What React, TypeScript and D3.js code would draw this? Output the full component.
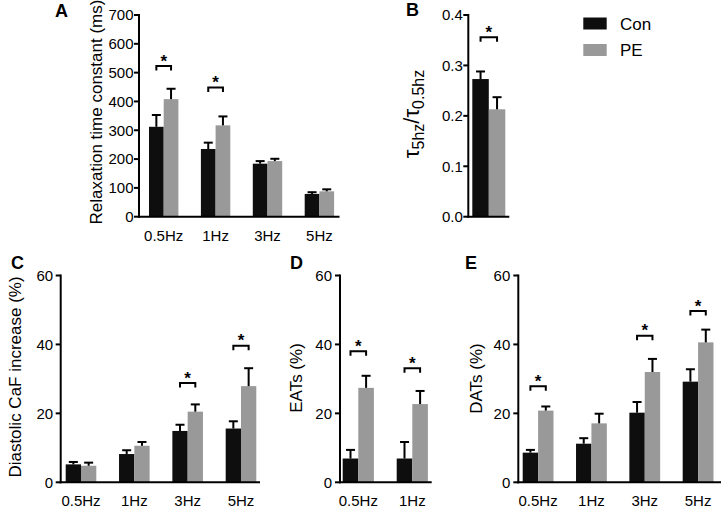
import React from 'react';
import * as d3 from 'd3';

// ---------- data ----------
const series = ['Con', 'PE'];
const freqs4 = ['0.5Hz', '1Hz', '3Hz', '5Hz'];
const freqs2 = ['0.5Hz', '1Hz'];
const ratioCat = ['ratio'];

// A: relaxation time constant (ms)
const relaxCon = [312, 235, 184, 79];
const relaxConSem = [41, 22, 9, 6];
const relaxPE = [408, 317, 193, 88];
const relaxPESem = [36, 31, 8, 7];
const relaxSig: [string, number][] = [['0.5Hz', 523], ['1Hz', 448]];
const relaxTicks = [0, 100, 200, 300, 400, 500, 600, 700];

// B: tau ratio
const ratioCon = [0.273];
const ratioConSem = [0.015];
const ratioPE = [0.213];
const ratioPESem = [0.024];
const ratioSig: [string, number][] = [['ratio', 0.356]];
const ratioTicks = [0, 0.1, 0.2, 0.3, 0.4];

// C: diastolic CaF increase (%)
const diaCon = [5.2, 8.2, 14.9, 15.6];
const diaConSem = [0.7, 1.1, 1.8, 2.1];
const diaPE = [4.8, 10.6, 20.5, 27.9];
const diaPESem = [0.9, 1.1, 2.1, 5.2];
const diaSig: [string, number][] = [['3Hz', 28.8], ['5Hz', 39.6]];

// D: EATs (%)
const eatCon = [6.9, 6.9];
const eatConSem = [2.5, 4.8];
const eatPE = [27.4, 22.7];
const eatPESem = [3.5, 3.8];
const eatSig: [string, number][] = [['0.5Hz', 38.0], ['1Hz', 33.1]];

// E: DATs (%)
const datCon = [8.6, 11.2, 20.2, 29.2];
const datConSem = [0.8, 1.6, 3.1, 3.6];
const datPE = [20.8, 17.1, 32.0, 40.6];
const datPESem = [1.2, 2.8, 3.8, 3.7];
const datSig: [string, number][] = [['0.5Hz', 27.9], ['3Hz', 42.5], ['5Hz', 49.7]];

const pctTicks = [0, 20, 40, 60];

const FONT = '"Liberation Sans", Arial, Helvetica, sans-serif';
const colors: Record<string, string> = { Con: '#0e0e0e', PE: '#999999' };

type PanelProps = {
  letter: string;
  letterX: number;
  letterY: number;
  axisX: number;
  axisEnd: number;
  yTop: number;
  yBottom: number;
  yMax: number;
  ticks: number[];
  fmt: (v: number) => string;
  firstStart: number;
  step: number;
  groupW: number;
  categories: string[];
  con: number[];
  conSem: number[];
  pe: number[];
  peSem: number[];
  sig: [string, number][];
  ylabel: React.ReactNode;
  ylabelX: number;
  ylabelY: number;
  showCat: boolean;
  tickGap: number;
};

function Panel(p: PanelProps) {
  const n = p.categories.length;
  const pad = 1 - p.groupW / p.step;
  const r0 = p.firstStart - (p.step * pad) / 2;
  const x = d3
    .scaleBand<string>()
    .domain(p.categories)
    .range([r0, r0 + n * p.step])
    .paddingInner(pad)
    .paddingOuter(pad / 2);
  const xs = d3.scaleBand<string>().domain(series).range([0, x.bandwidth()]).padding(0);
  const y = d3.scaleLinear().domain([0, p.yMax]).range([p.yBottom, p.yTop]);
  const vals: Record<string, number[]> = { Con: p.con, PE: p.pe };
  const sems: Record<string, number[]> = { Con: p.conSem, PE: p.peSem };
  const cap = 4.5;

  return (
    <g>
      <text x={p.letterX} y={p.letterY} fontSize={18} fontWeight="900" fontFamily={FONT}>
        {p.letter}
      </text>
      {p.categories.map((c, i) =>
        series.map((s) => {
          const bx = (x(c) as number) + (xs(s) as number);
          const v = vals[s][i];
          return (
            <rect
              key={c + s}
              x={bx}
              y={y(v)}
              width={xs.bandwidth()}
              height={p.yBottom - y(v)}
              fill={colors[s]}
            />
          );
        })
      )}
      {p.categories.map((c, i) =>
        series.map((s) => {
          const cx = (x(c) as number) + (xs(s) as number) + xs.bandwidth() / 2;
          const v = vals[s][i];
          const t = v + sems[s][i];
          return (
            <g key={'e' + c + s} stroke="#000" strokeWidth={2} fill="none">
              <line x1={cx} x2={cx} y1={y(v)} y2={y(t)} />
              <line x1={cx - cap} x2={cx + cap} y1={y(t)} y2={y(t)} />
            </g>
          );
        })
      )}
      {p.sig.map(([c, lvl]) => {
        const x1 = (x(c) as number) + (xs('Con') as number) + xs.bandwidth() / 2;
        const x2 = (x(c) as number) + (xs('PE') as number) + xs.bandwidth() / 2;
        const yy = y(lvl);
        return (
          <g key={'s' + c}>
            <path
              d={`M${x1},${yy + 4.5}V${yy}H${x2}V${yy + 4.5}`}
              stroke="#000"
              strokeWidth={2}
              fill="none"
            />
            <text
              x={(x1 + x2) / 2}
              y={yy + 0.5}
              textAnchor="middle"
              fontSize={17}
              fontWeight="bold"
              fontFamily={FONT}
            >
              *
            </text>
          </g>
        );
      })}
      <g stroke="#000" strokeWidth={2} fill="none">
        <line x1={p.axisX} x2={p.axisX} y1={p.yTop - 1} y2={p.yBottom + 1} />
        <line x1={p.axisX - 1} x2={p.axisEnd} y1={p.yBottom} y2={p.yBottom} />
        {p.ticks.map((t) => (
          <line key={'t' + t} x1={p.axisX - 5} x2={p.axisX} y1={y(t)} y2={y(t)} />
        ))}
      </g>
      {p.ticks.map((t) => (
        <text
          key={'tl' + t}
          x={p.axisX - p.tickGap}
          y={y(t)}
          dy="0.36em"
          textAnchor="end"
          fontSize={15}
          fontFamily={FONT}
        >
          {p.fmt(t)}
        </text>
      ))}
      {p.showCat &&
        p.categories.map((c) => (
          <text
            key={'c' + c}
            x={(x(c) as number) + x.bandwidth() / 2}
            y={p.yBottom + 24}
            textAnchor="middle"
            fontSize={15}
            fontFamily={FONT}
          >
            {c}
          </text>
        ))}
      <g transform={`translate(${p.ylabelX},${p.ylabelY}) rotate(-90)`}>{p.ylabel}</g>
    </g>
  );
}

function YLab({ text }: { text: string }) {
  return (
    <text x={0} y={0} dy="0.36em" textAnchor="middle" fontSize={17} fontFamily={FONT}>
      {text}
    </text>
  );
}

export default function App() {
  const intFmt = (v: number) => d3.format('d')(v);
  const ratioFmt = (v: number) => d3.format('.1f')(v);
  return (
    <svg
      width={723}
      height={524}
      style={{ position: 'absolute', left: 0, top: 0, background: '#fff' }}
    >
      <rect width={723} height={524} fill="#fff" />
      <Panel
        letter="A"
        letterX={55}
        letterY={17}
        axisX={139}
        axisEnd={339.5}
        yTop={15}
        yBottom={216.7}
        yMax={700}
        ticks={relaxTicks}
        fmt={intFmt}
        firstStart={149}
        step={51.9}
        groupW={29.4}
        categories={freqs4}
        con={relaxCon}
        conSem={relaxConSem}
        pe={relaxPE}
        peSem={relaxPESem}
        sig={relaxSig}
        ylabel={<YLab text="Relaxation time constant (ms)" />}
        ylabelX={96}
        ylabelY={112}
        showCat={true}
        tickGap={5.5}
      />
      <Panel
        letter="B"
        letterX={406}
        letterY={16}
        axisX={468.3}
        axisEnd={509.3}
        yTop={15}
        yBottom={216.7}
        yMax={0.4}
        ticks={ratioTicks}
        fmt={ratioFmt}
        firstStart={472.3}
        step={41}
        groupW={33}
        categories={ratioCat}
        con={ratioCon}
        conSem={ratioConSem}
        pe={ratioPE}
        peSem={ratioPESem}
        sig={ratioSig}
        ylabel={
          <text x={0} y={0} dy="0.36em" textAnchor="middle" fontFamily={FONT} fontSize={22}>
            <tspan>τ</tspan>
            <tspan fontSize={16} dy={5}>5hz</tspan>
            <tspan dy={-5}>/τ</tspan>
            <tspan fontSize={16} dy={5}>0.5hz</tspan>
          </text>
        }
        ylabelX={411}
        ylabelY={114}
        showCat={false}
        tickGap={5.5}
      />
      <Panel
        letter="C"
        letterX={11}
        letterY={269}
        axisX={60.7}
        axisEnd={260}
        yTop={275.5}
        yBottom={482.3}
        yMax={60}
        ticks={pctTicks}
        fmt={intFmt}
        firstStart={65.7}
        step={53.33}
        groupW={30.6}
        categories={freqs4}
        con={diaCon}
        conSem={diaConSem}
        pe={diaPE}
        peSem={diaPESem}
        sig={diaSig}
        ylabel={<YLab text="Diastolic CaF increase (%)" />}
        ylabelX={15}
        ylabelY={377}
        showCat={true}
        tickGap={7.5}
      />
      <Panel
        letter="D"
        letterX={290}
        letterY={269}
        axisX={340}
        axisEnd={431.7}
        yTop={275.5}
        yBottom={482.3}
        yMax={60}
        ticks={pctTicks}
        fmt={intFmt}
        firstStart={342.7}
        step={54}
        groupW={31.2}
        categories={freqs2}
        con={eatCon}
        conSem={eatConSem}
        pe={eatPE}
        peSem={eatPESem}
        sig={eatSig}
        ylabel={<YLab text="EATs (%)" />}
        ylabelX={295.5}
        ylabelY={378}
        showCat={true}
        tickGap={8}
      />
      <Panel
        letter="E"
        letterX={465}
        letterY={269}
        axisX={518.3}
        axisEnd={721}
        yTop={275.5}
        yBottom={482.3}
        yMax={60}
        ticks={pctTicks}
        fmt={intFmt}
        firstStart={522.7}
        step={53.33}
        groupW={30.8}
        categories={freqs4}
        con={datCon}
        conSem={datConSem}
        pe={datPE}
        peSem={datPESem}
        sig={datSig}
        ylabel={<YLab text="DATs (%)" />}
        ylabelX={475.5}
        ylabelY={378.5}
        showCat={true}
        tickGap={8}
      />
      {series.map((s, i) => (
        <g key={'lg' + s}>
          <rect x={583.3} y={17.5 + i * 26.5} width={23.4} height={12} fill={colors[s]} />
          <text x={620} y={23.5 + i * 26.5} dy="0.36em" fontSize={17} fontFamily={FONT}>
            {s}
          </text>
        </g>
      ))}
    </svg>
  );
}
